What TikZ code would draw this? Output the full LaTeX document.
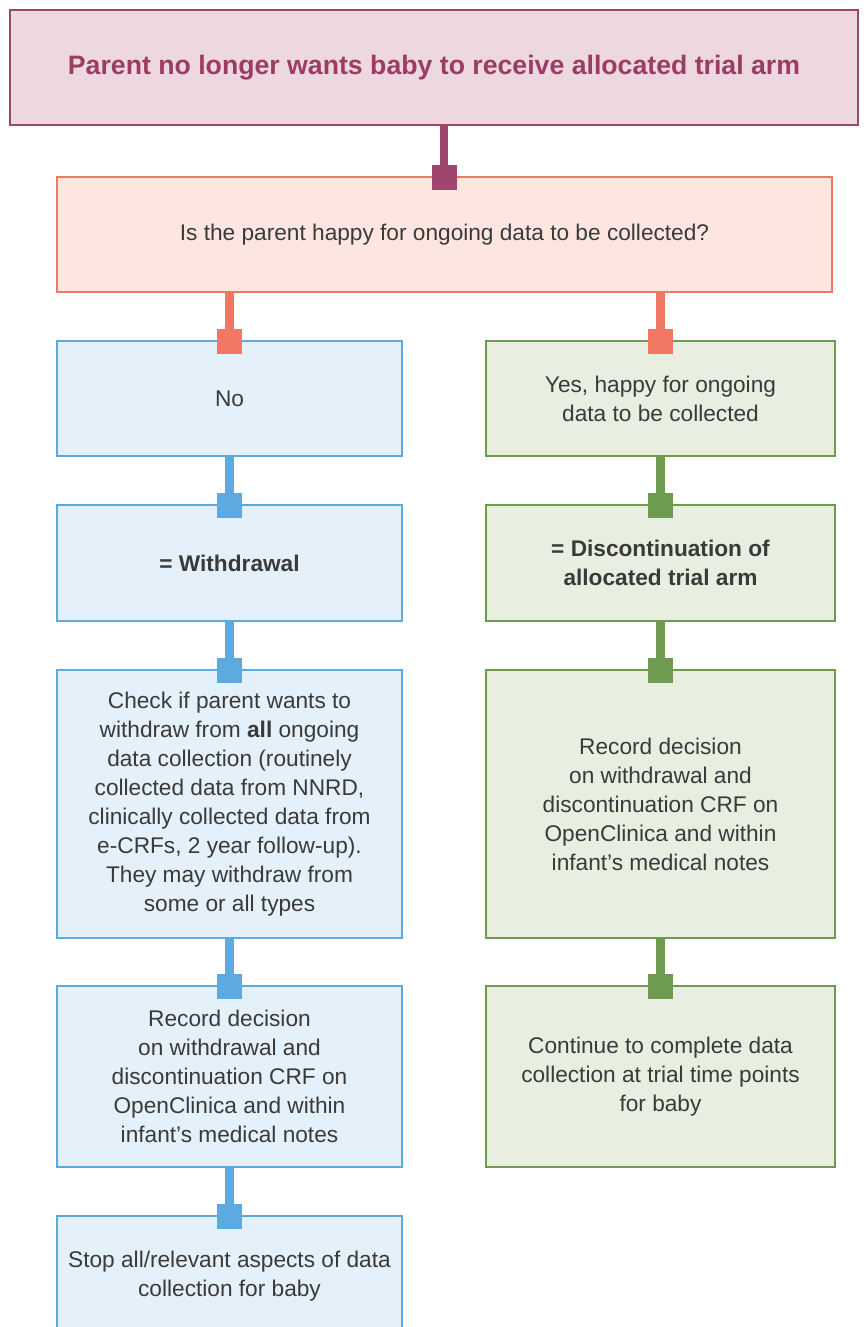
\documentclass[tikz,border=0pt]{standalone}
\usepackage{fontspec}
\setmainfont{Liberation Sans}
\definecolor{topfill}{HTML}{EED8E0}
\definecolor{topline}{HTML}{A0466E}
\definecolor{toptext}{HTML}{9B3C64}
\definecolor{qfill}{HTML}{FDE6E0}
\definecolor{qline}{HTML}{F07864}
\definecolor{bfill}{HTML}{E4F0FA}
\definecolor{bline}{HTML}{5DAAE1}
\definecolor{gfill}{HTML}{E8EEE0}
\definecolor{gline}{HTML}{6E9B50}
\definecolor{txt}{HTML}{3A3A3A}
\begin{document}
\begin{tikzpicture}[x=0.75pt,y=-0.75pt,
  box/.style={draw,line width=2.2pt,rectangle,inner sep=0pt,align=center,text=txt,
    font=\fontsize{17}{21.75}\selectfont},
  topbox/.style={box,fill=topfill,draw=topline,text=toptext,font=\fontsize{20}{24}\selectfont\bfseries,
    minimum width=848*0.75pt,minimum height=115*0.75pt},
  qbox/.style={box,fill=qfill,draw=qline,minimum width=775*0.75pt,minimum height=115*0.75pt},
  bbox/.style={box,fill=bfill,draw=bline,minimum width=345*0.75pt},
  gbox/.style={box,fill=gfill,draw=gline,minimum width=349*0.75pt},
  conn/.style={line width=6.5pt},
  sq/.style={rectangle,minimum size=25*0.75pt,inner sep=0pt,yshift=-2*0.75pt}]
\useasboundingbox (0,0) rectangle (866,1327);
\clip (0,0) rectangle (866,1327);
\fill[white] (0,0) rectangle (866,1327);

\node[topbox] (top) at (434,67.5) {Parent no longer wants baby to receive allocated trial arm};
\node[qbox] (q) at (444.5,234.5) {Is the parent happy for ongoing data to be collected?};

\node[bbox,minimum height=115*0.75pt] (no) at (229.5,398.5) {No};
\node[bbox,minimum height=116*0.75pt] (wd) at (229.5,563) {\textbf{= Withdrawal}};
\node[bbox,minimum height=268*0.75pt] (chk) at (229.5,804) {Check if parent wants to\\withdraw from \textbf{all} ongoing\\data collection (routinely\\collected data from NNRD,\\clinically collected data from\\e-CRFs, 2 year follow-up).\\They may withdraw from\\some or all types};
\node[bbox,minimum height=181*0.75pt] (recl) at (229.5,1076.5) {Record decision\\on withdrawal and\\discontinuation CRF on\\OpenClinica and within\\infant’s medical notes};
\node[bbox,minimum height=120*0.75pt] (stop) at (229.5,1276) {Stop all/relevant aspects of data\\collection for baby};

\node[gbox,minimum height=115*0.75pt] (yes) at (660.5,398.5) {Yes, happy for ongoing\\data to be collected};
\node[gbox,minimum height=116*0.75pt] (dis) at (660.5,563) {\textbf{= Discontinuation of}\\\textbf{allocated trial arm}};
\node[gbox,minimum height=268*0.75pt] (recr) at (660.5,804) {Record decision\\on withdrawal and\\discontinuation CRF on\\OpenClinica and within\\infant’s medical notes};
\node[gbox,minimum height=181*0.75pt] (cont) at (660.5,1076.5) {Continue to complete data\\collection at trial time points\\for baby};

% connectors
\draw[conn,draw=topline] (top.south -| 444,0) -- (q.north -| 444,0);
\node[sq,fill=topline] (sq0) at (q.north -| 444,0) {};

\draw[conn,draw=qline] (q.south -| no.north) -- (no.north);
\node[sq,fill=qline] (sq1) at (no.north) {};
\draw[conn,draw=qline] (q.south -| yes.north) -- (yes.north);
\node[sq,fill=qline] (sq2) at (yes.north) {};

\draw[conn,draw=bline] (no.south) -- (wd.north);
\node[sq,fill=bline] (sq3) at (wd.north) {};
\draw[conn,draw=bline] (wd.south) -- (chk.north);
\node[sq,fill=bline] (sq4) at (chk.north) {};
\draw[conn,draw=bline] (chk.south) -- (recl.north);
\node[sq,fill=bline] (sq5) at (recl.north) {};
\draw[conn,draw=bline] (recl.south) -- (stop.north);
\node[sq,fill=bline] (sq6) at (stop.north) {};

\draw[conn,draw=gline] (yes.south) -- (dis.north);
\node[sq,fill=gline] (sq7) at (dis.north) {};
\draw[conn,draw=gline] (dis.south) -- (recr.north);
\node[sq,fill=gline] (sq8) at (recr.north) {};
\draw[conn,draw=gline] (recr.south) -- (cont.north);
\node[sq,fill=gline] (sq9) at (cont.north) {};
\end{tikzpicture}
\end{document}
